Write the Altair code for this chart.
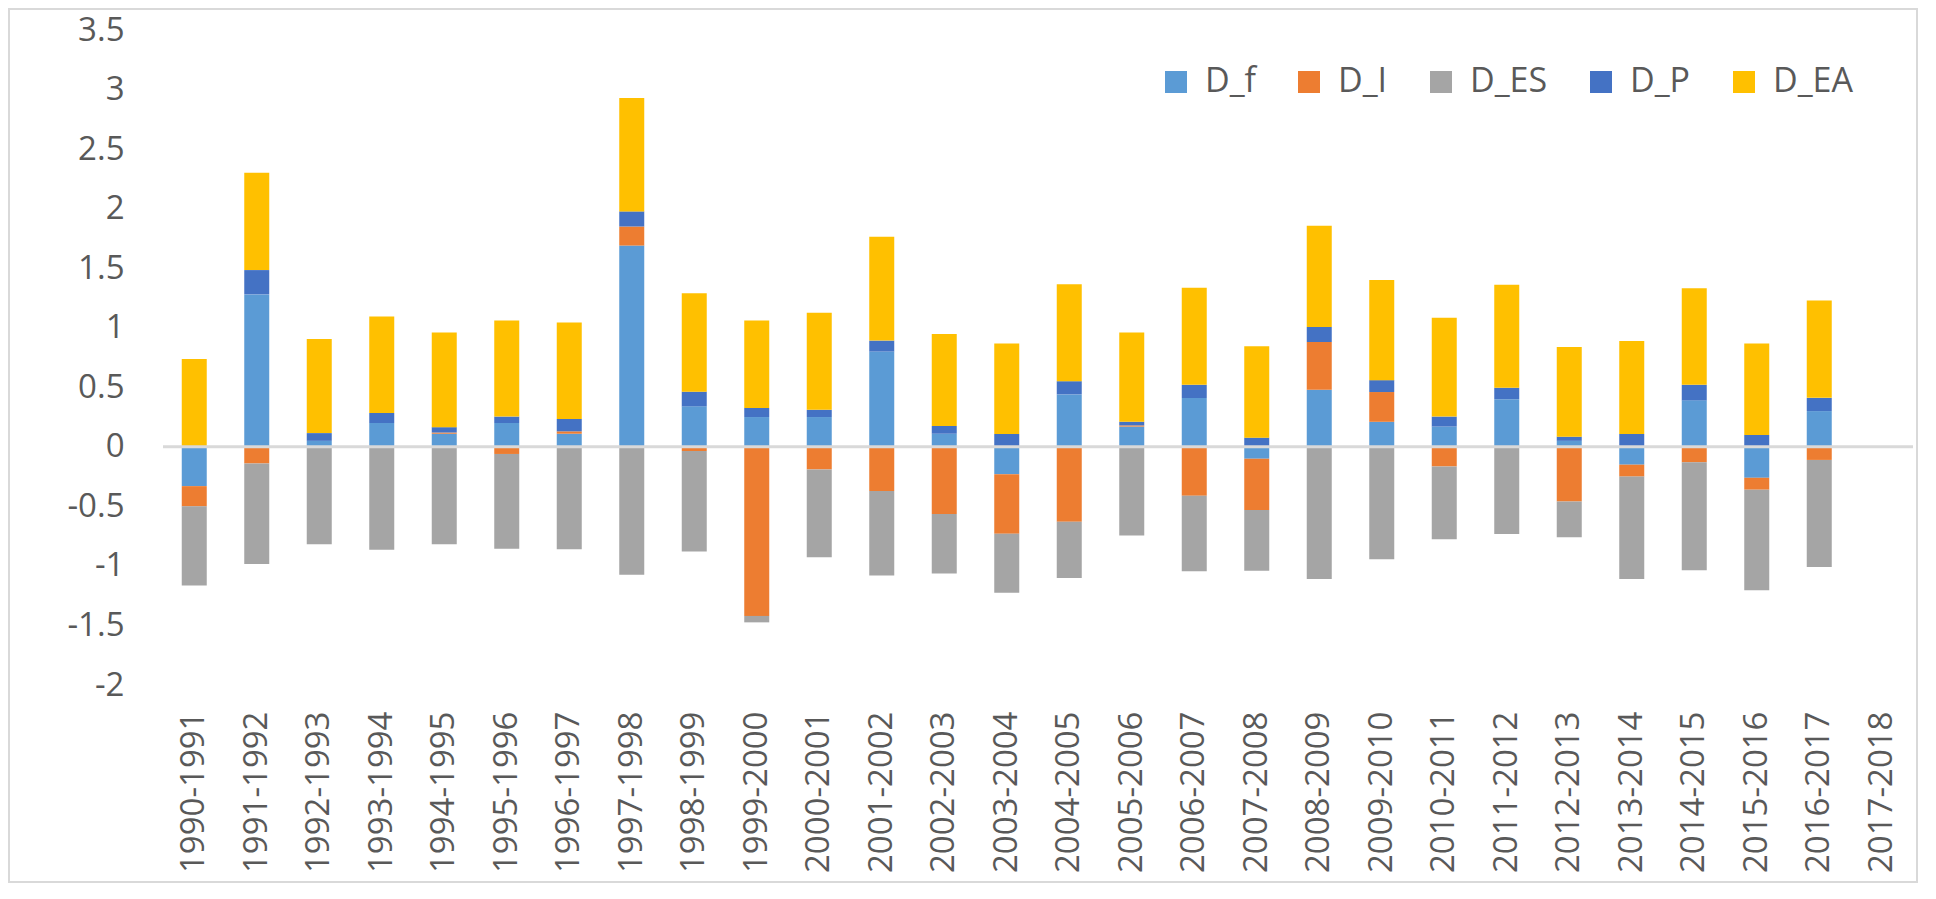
import altair as alt
import pandas as pd

categories = [
    "1990-1991", "1991-1992", "1992-1993", "1993-1994", "1994-1995", "1995-1996",
    "1996-1997", "1997-1998", "1998-1999", "1999-2000", "2000-2001", "2001-2002",
    "2002-2003", "2003-2004", "2004-2005", "2005-2006", "2006-2007", "2007-2008",
    "2008-2009", "2009-2010", "2010-2011", "2011-2012", "2012-2013", "2013-2014",
    "2014-2015", "2015-2016", "2016-2017", "2017-2018",
]

series = ["D_f", "D_I", "D_ES", "D_P", "D_EA"]
colors = ["#5B9BD5", "#ED7D31", "#A5A5A5", "#4472C4", "#FFC000"]

D_f = [-0.33, 1.28, 0.05, 0.20, 0.11, 0.20, 0.11, 1.69, 0.34, 0.25, 0.25, 0.80,
       0.11, -0.23, 0.44, 0.17, 0.41, -0.10, 0.48, 0.21, 0.17, 0.40, 0.05, -0.15,
       0.39, -0.26, 0.30, 0.0]
D_I = [-0.17, -0.14, 0.0, 0.0, 0.01, -0.06, 0.02, 0.16, -0.035, -1.42, -0.19, -0.37,
       -0.565, -0.50, -0.63, 0.01, -0.41, -0.43, 0.40, 0.25, -0.165, 0.0, -0.46, -0.10,
       -0.13, -0.10, -0.11, 0.0]
D_ES = [-0.665, -0.845, -0.818, -0.864, -0.818, -0.795, -0.86, -1.075, -0.845, -0.054,
        -0.737, -0.71, -0.499, -0.495, -0.472, -0.745, -0.634, -0.511, -1.11, -0.945,
        -0.611, -0.733, -0.30, -0.86, -0.906, -0.845, -0.899, 0.0]
D_P = [0.0, 0.204, 0.065, 0.084, 0.045, 0.054, 0.104, 0.127, 0.123, 0.077, 0.061, 0.092,
       0.065, 0.108, 0.111, 0.031, 0.111, 0.077, 0.127, 0.10, 0.084, 0.096, 0.035, 0.108,
       0.131, 0.10, 0.111, 0.0]
D_EA = [0.737, 0.818, 0.791, 0.81, 0.795, 0.806, 0.81, 0.952, 0.826, 0.733, 0.814, 0.872,
        0.772, 0.76, 0.814, 0.749, 0.814, 0.768, 0.849, 0.841, 0.83, 0.864, 0.753, 0.78,
        0.81, 0.768, 0.818, 0.0]

y_ticks = [-2, -1.5, -1, -0.5, 0, 0.5, 1, 1.5, 2, 2.5, 3, 3.5]

values = {"D_f": D_f, "D_I": D_I, "D_ES": D_ES, "D_P": D_P, "D_EA": D_EA}
rows = []
for si, s in enumerate(series):
    for ci, c in enumerate(categories):
        rows.append({"cat": c, "series": s, "value": values[s][ci], "ord": si})
df = pd.DataFrame(rows)

FONT = "Open Sans"
TXT = "#595959"

bars = alt.Chart(df).mark_bar().encode(
    x=alt.X(
        "cat:N",
        sort=categories,
        scale=alt.Scale(paddingInner=0.6, paddingOuter=0.3),
        axis=alt.Axis(
            title=None, labelAngle=-90, labelFontSize=33, labelFont=FONT,
            labelColor=TXT, ticks=False, domain=False, labelPadding=26,
        ),
    ),
    y=alt.Y(
        "value:Q",
        stack="zero",
        scale=alt.Scale(domain=[-2, 3.5], nice=False),
        axis=alt.Axis(
            title=None, values=y_ticks, labelExpr="toString(datum.value)",
            grid=False, ticks=False, domain=False, labelFontSize=33,
            labelFont=FONT, labelColor=TXT, labelPadding=39,
        ),
    ),
    color=alt.Color(
        "series:N",
        sort=series,
        scale=alt.Scale(domain=series, range=colors),
        legend=alt.Legend(
            title=None, orient="none", legendX=996, legendY=35,
            direction="horizontal", columns=5, symbolType="square",
            symbolSize=484, symbolStrokeWidth=0, labelFontSize=34,
            labelFont=FONT, labelColor=TXT, labelOffset=12, columnPadding=36,
            padding=0,
        ),
    ),
    order=alt.Order("ord:Q"),
)

zero = alt.Chart(pd.DataFrame({"v": [0]})).mark_rule(
    color="#D9D9D9", strokeWidth=3
).encode(y="v:Q")

frame = alt.Chart(pd.DataFrame({"a": [0]})).mark_rect(
    filled=False, stroke="#D9D9D9", strokeWidth=2
).encode(
    x=alt.value(-154), x2=alt.value(1754), y=alt.value(-21), y2=alt.value(852)
)

chart = alt.layer(bars, zero, frame).properties(
    width=1750,
    height=655,
    autosize=alt.AutoSizeParams(type="none"),
    padding={"left": 155, "top": 22, "right": 13, "bottom": 198},
).configure_view(stroke="transparent")

chart.save("out.html", embed_options={"renderer": "svg", "actions": False})
